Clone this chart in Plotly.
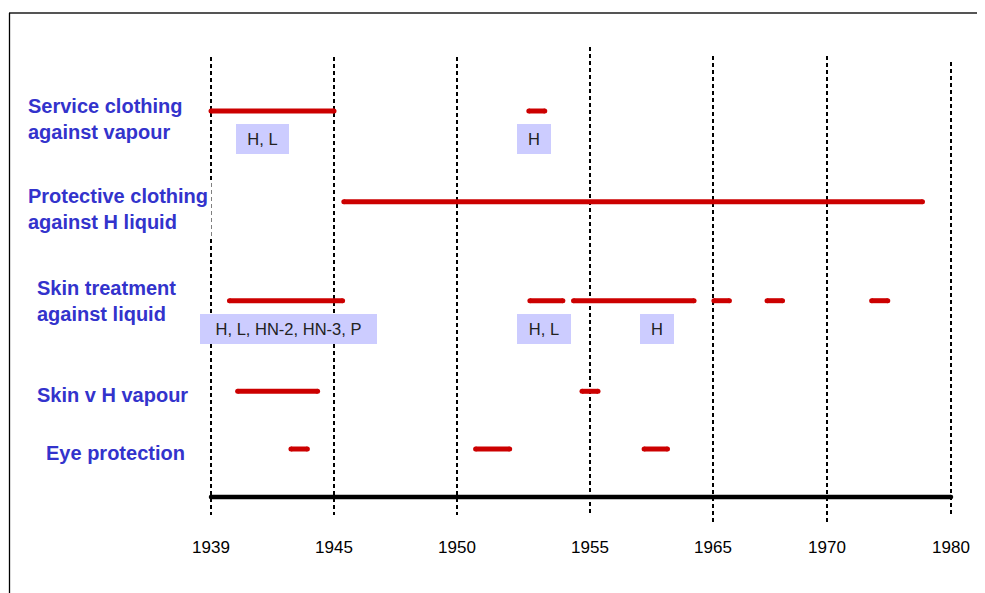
import numpy as np
import plotly.graph_objects as go

# ---------------- data ----------------
TICK_YEARS = [1939, 1945, 1950, 1955, 1965, 1970, 1980]

ROW_LABELS = [
    "Service clothing<br>against vapour",
    "Protective clothing<br>against H liquid",
    "Skin treatment<br>against liquid",
    "Skin v H vapour",
    "Eye protection",
]

service_start = [1939.0, 1952.7]
service_end = [1945.0, 1953.3]

protective_start = [1945.4]
protective_end = [1977.7]

skin_treat_start = [1939.9, 1952.74, 1954.38, 1965.04, 1967.37, 1973.6]
skin_treat_end = [1945.35, 1953.98, 1963.46, 1965.72, 1968.05, 1974.9]

skin_vap_start = [1940.3, 1954.7]
skin_vap_end = [1944.2, 1955.65]

eye_start = [1942.9, 1950.7, 1959.4]
eye_end = [1943.7, 1951.98, 1961.3]

AGENT_LABELS = ["H, L", "H", "H, L, HN-2, HN-3, P", "H, L", "H"]

# ---------------- layout helpers ----------------
OFF = 8                      # page offset of the plot div (browser body margin)
FIG_W, FIG_H = 985 - OFF, 593 - OFF
TICK_X = [211, 334, 457, 590, 713, 827, 951]  # horizontal placement of the year ticks (page px)
ROW_Y = [111, 201.7, 300.7, 391.3, 449]
LABEL_X = [24, 24, 33, 33, 42]
LABEL_Y = [119, 208.5, 300.5, 395, 453]
AXIS_Y = 497
GRID_TOP = [57, 57, 57, 47, 56, 56, 62]
GRID_BOTTOM = [515, 515, 515, 515, 524, 524, 515]
BOX_W = [53, 34, 177, 54, 34]
BOX_X = [262.5, 534, 288.5, 544, 657]
BOX_Y = [139, 139, 329, 329, 329]

RED = "#CC0000"
BLUE = "#3333CC"
FONT = "Liberation Sans, Arial, sans-serif"


def xpos(years):
    return np.interp(np.asarray(years, dtype=float), TICK_YEARS, TICK_X)


def px(x):
    return (x - OFF) / FIG_W


def py(y):
    return 1 - (y - OFF) / FIG_H


fig = go.Figure()

# dashed vertical year lines
for tx, t, b in zip(TICK_X, GRID_TOP, GRID_BOTTOM):
    fig.add_trace(go.Scatter(
        x=[tx, tx], y=[t, b], mode="lines",
        line=dict(color="black", width=2, dash="4px,3px"),
        hoverinfo="skip", showlegend=False))

# timeline axis bar
fig.add_trace(go.Scatter(
    x=[TICK_X[0], TICK_X[-1]], y=[AXIS_Y, AXIS_Y], mode="lines+markers",
    line=dict(color="black", width=4.5), marker=dict(color="black", size=4.5),
    hoverinfo="skip", showlegend=False, cliponaxis=False))

rows = [
    (service_start, service_end),
    (protective_start, protective_end),
    (skin_treat_start, skin_treat_end),
    (skin_vap_start, skin_vap_end),
    (eye_start, eye_end),
]

for ri, (s, e) in enumerate(rows):
    xs, ys = [], []
    for a, b in zip(xpos(s), xpos(e)):
        xs += [a, b, None]
        ys += [ROW_Y[ri], ROW_Y[ri], None]
    fig.add_trace(go.Scatter(
        x=xs, y=ys, mode="lines+markers",
        line=dict(color=RED, width=5), marker=dict(color=RED, size=5),
        hoverinfo="skip", showlegend=False, cliponaxis=False))

# row labels
for lbl, lx, ly in zip(ROW_LABELS, LABEL_X, LABEL_Y):
    fig.add_annotation(
        x=lx, y=ly, xref="x", yref="y", text=lbl, showarrow=False,
        xanchor="left", yanchor="middle", align="left",
        font=dict(family=FONT, size=20, color=BLUE, weight="bold"),
        bgcolor="white", borderpad=3)

# agent boxes
for txt, bx, by, bw in zip(AGENT_LABELS, BOX_X, BOX_Y, BOX_W):
    fig.add_annotation(
        x=bx, y=by, xref="x", yref="y", text=txt, showarrow=False,
        xanchor="center", yanchor="middle", align="center",
        width=bw, height=30, bgcolor="#CCCCFF", borderpad=0, borderwidth=0,
        font=dict(family=FONT, size=16.5, color="#222222"))

# frame (top and left border)
fig.add_shape(type="line", xref="paper", yref="paper", x0=px(9), x1=1, y0=py(13), y1=py(13),
              line=dict(color="#555555", width=2))
fig.add_shape(type="line", xref="paper", yref="paper", x0=px(9.5), x1=px(9.5), y0=0, y1=py(13),
              line=dict(color="black", width=1.3))

fig.update_layout(
    width=FIG_W, height=FIG_H,
    margin=dict(l=0, r=0, t=0, b=0),
    paper_bgcolor="white", plot_bgcolor="white",
    showlegend=False,
    xaxis=dict(
        range=[OFF, OFF + FIG_W], showgrid=False, zeroline=False, showline=False,
        tickvals=TICK_X, ticktext=[str(y) for y in TICK_YEARS],
        ticks="outside", ticklen=35, tickcolor="rgba(0,0,0,0)",
        anchor="free", position=py(AXIS_Y),
        tickfont=dict(family=FONT, size=17, color="black"),
        fixedrange=True,
    ),
    yaxis=dict(range=[OFF + FIG_H, OFF], visible=False, fixedrange=True),
)

fig.write_html("out.html")
